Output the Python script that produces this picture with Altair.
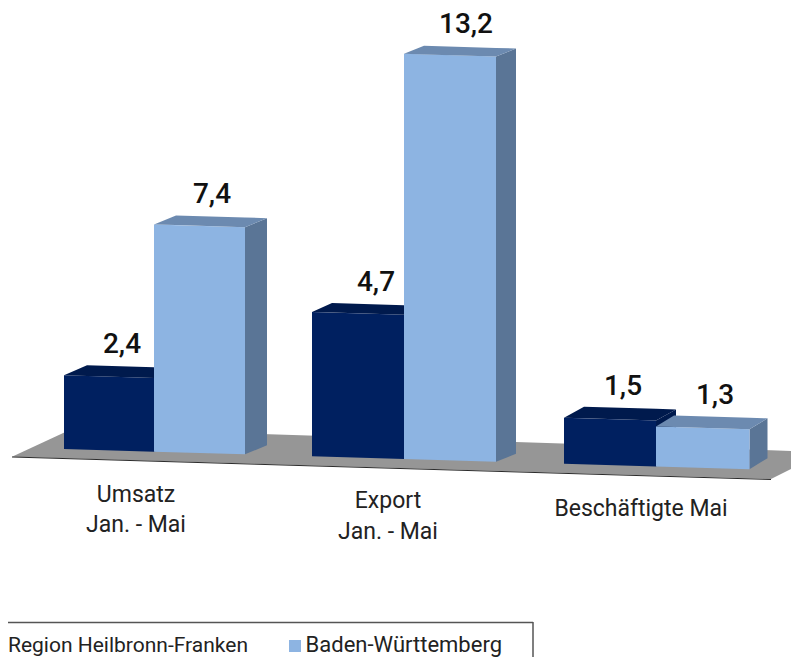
import altair as alt
import pandas as pd

# --- chart values -----------------------------------------------------------
categories = ["Umsatz\nJan. - Mai", "Export\nJan. - Mai", "Beschäftigte Mai"]
series = ["Region Heilbronn-Franken", "Baden-Württemberg"]
region_values = [2.4, 4.7, 1.5]
bw_values = [7.4, 13.2, 1.3]

# --- layout of the pseudo-3D scene (page pixels) ----------------------------
W, H = 783, 649
PAGE = 8
PX_PER_UNIT = 30.7
Y0 = 449.0
SLOPE = 0.0295
BAR_EDGES = [(64, 154, 245), (312, 404, 496), (564, 656, 749.5)]
DEPTH = [[(23, -10), (22, -9)], [(20, -9), (20, -8)], [(20, -11), (18, -11)]]
LABEL_X = [[122, 212], [376, 466], [623, 715]]
LABEL_GAP = [[12, 12], [12, 13], [12, 12]]
CAT_X = [136, 388, 641]
CAT_Y = [[502, 532], [508, 539], [516]]
FILLS = {
    "front": ["#002060", "#8DB4E2"],
    "top": ["#001A4D", "#6C8AB0"],
    "side": ["#001A4D", "#5A7596"],
}
FLOOR_FILL = "#969696"


def v(px):
    """page pixel row -> chart unit"""
    return (Y0 - px) / PX_PER_UNIT


def base(x):
    return -SLOPE * (x - 64) / PX_PER_UNIT


layers = []
X = alt.X("x:Q", scale=alt.Scale(domain=[PAGE, PAGE + W]), axis=None)
Y = alt.Y("y:Q", scale=alt.Scale(domain=[v(PAGE + H), v(PAGE)]), axis=None)


def add_poly(xs, upper, lower, fill):
    df = pd.DataFrame(dict(x=xs, y=upper, y2=lower))
    layers.append(
        alt.Chart(df).mark_area(color=fill, orient="vertical", clip=True).encode(x=X, y=Y, y2="y2:Q")
    )


def add_quad(fl, fr, bl, br, fill):
    """top surface: front edge fl-fr, back edge bl-br"""
    def lerp(a, b, x):
        return a[1] + (b[1] - a[1]) * (x - a[0]) / (b[0] - a[0])
    xs = [fl[0], bl[0], fr[0], br[0]]
    upper = [fl[1], bl[1], lerp(bl, br, fr[0]), br[1]]
    lower = [fl[1], lerp(fl, fr, bl[0]), fr[1], br[1]]
    add_poly(xs, upper, lower, fill)


# floor
add_quad((12, v(456.7)), (771, v(479)), (74, v(428)), (825, v(452)), FLOOR_FILL)

value_rows = []
for g, edges in enumerate(BAR_EDGES):
    for s, vals in enumerate([region_values, bw_values]):
        val = vals[g]
        xl, xr = edges[s], edges[s + 1]
        dx, dy = DEPTH[g][s]
        du = -dy / PX_PER_UNIT
        bl, br = base(xl), base(xr)
        tl, tr = bl + val, br + val
        add_poly([xr, xr + dx], [tr, tr + du], [br, br + du], FILLS["side"][s])
        add_poly([xl, xr], [tl, tr], [bl, br], FILLS["front"][s])
        add_quad((xl, tl), (xr, tr), (xl + dx, tl + du), (xr + dx, tr + du), FILLS["top"][s])
        value_rows.append(dict(
            x=LABEL_X[g][s],
            y=tl + du + LABEL_GAP[g][s] / PX_PER_UNIT,
            label=f"{val:.1f}".replace(".", ","),
        ))

cat_rows = []
for g, cat in enumerate(categories):
    for line, py in zip(cat.split("\n"), CAT_Y[g]):
        cat_rows.append(dict(x=CAT_X[g], y=v(py), label=line))

edge = alt.Chart(pd.DataFrame([
    dict(x=12, y=v(457.0)), dict(x=771, y=v(479.5)),
])).mark_line(color="#2b2b2b", strokeWidth=1).encode(x=X, y=Y)

values_text = alt.Chart(pd.DataFrame(value_rows)).mark_text(
    font="Roboto", fontSize=28, fontWeight=500, color="#111111", baseline="alphabetic", align="center",
).encode(x=X, y=Y, text="label:N")

cat_text = alt.Chart(pd.DataFrame(cat_rows)).mark_text(
    font="Roboto", fontSize=23, color="#222222", baseline="alphabetic", align="center",
).encode(x=X, y=Y, text="label:N")

legend_text_a = alt.Chart(pd.DataFrame([dict(x=248, y=v(652), label=series[0])])).mark_text(
    font="Roboto", fontSize=21, color="#222222", baseline="alphabetic", align="right",
).encode(x=X, y=Y, text="label:N")
legend_text_b = alt.Chart(pd.DataFrame([dict(x=502, y=v(652), label=series[1])])).mark_text(
    font="Roboto", fontSize=22, color="#222222", baseline="alphabetic", align="right",
).encode(x=X, y=Y, text="label:N")

swatch = alt.Chart(pd.DataFrame([dict(x=289, x2=301, y=v(640), y2=v(652))])).mark_rect(
    color=FILLS["front"][1]
).encode(x=X, x2="x2:Q", y=Y, y2="y2:Q")

box_top = alt.Chart(pd.DataFrame([dict(x=PAGE, x2=533, y=v(622.5))])).mark_rule(
    color="#555555", strokeWidth=1.5
).encode(x=X, x2="x2:Q", y=Y)
box_right = alt.Chart(pd.DataFrame([dict(x=533, y=v(622), y2=v(PAGE + H))])).mark_rule(
    color="#555555", strokeWidth=1.5
).encode(x=X, y=Y, y2="y2:Q")

chart = alt.layer(
    *layers, edge, values_text, cat_text, legend_text_a, legend_text_b, swatch, box_top, box_right
).properties(
    width=W, height=H, padding=0, autosize=alt.AutoSizeParams(type="none"),
    background="white",
).configure_view(stroke=None)

chart.save("out.html", embed_options={"renderer": "svg", "actions": False})
